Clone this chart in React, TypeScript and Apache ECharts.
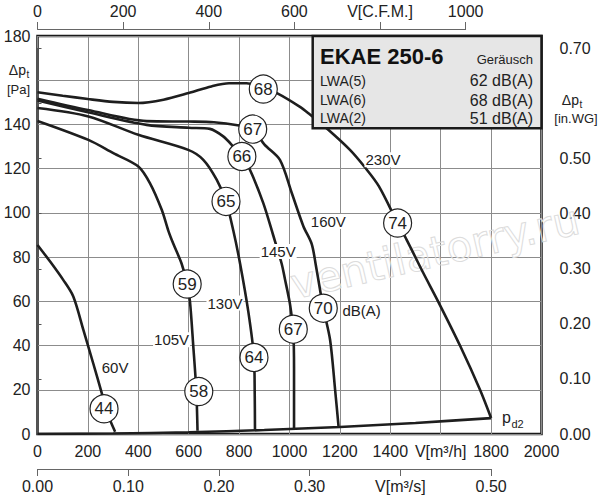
import React, { useEffect, useRef } from "react";
import * as echarts from "echarts";

// ---- data (V in m3/h, p in Pa) ----
const curve230V = [
  [0, 154.6], [100, 153], [200, 151.5], [300, 150.2], [400, 149.7], [500, 151.2],
  [600, 154.2], [690, 157.2], [760, 158.6], [830, 158.6], [896, 156.5], [950, 154.2],
  [1040, 148.1], [1080, 144.6], [1154, 137.6], [1240, 128.5], [1300, 120.5], [1355, 112],
  [1429, 95.4], [1465, 87.8], [1531, 72.8], [1590, 59.9], [1677, 39.9], [1756, 20], [1800, 7.2],
];
const curve160V = [
  [0, 151.6], [200, 146.5], [433, 141.5], [600, 141.3], [700, 141], [800, 139.5], [854, 137.9],
  [900, 131], [962, 124], [1009, 109], [1055, 94], [1088, 86], [1105, 76], [1120, 66],
  [1134, 56.9], [1161, 42.6], [1181, 20], [1195, 3],
];
const curve145V = [
  [0, 150.8], [200, 145.5], [433, 139.8], [600, 138.5], [684, 138], [737, 134.6], [777, 130],
  [811, 125.5], [843, 119.5], [896, 104.4], [935, 90], [969, 77], [982, 70], [1000, 60],
  [1009, 53], [1015, 47], [1018, 30], [1018, 2],
];
const curve130V = [
  [0, 147.4], [202, 143.6], [400, 135.3], [598, 128.5], [658, 124], [711, 115], [748, 105.2],
  [777, 92], [804, 77], [837, 55], [859, 34.6], [862, 18], [863, 2],
];
const curve105V = [
  [0, 141.6], [202, 133], [301, 127], [400, 121], [446, 113.5], [493, 101.4], [519, 92],
  [539, 86], [572, 77], [594, 67.8], [605, 60], [618, 40], [630, 20], [635, 1.5],
];
const curve60V = [
  [0, 85.5], [50, 78], [102, 69.7], [142, 62.2], [182, 47.1], [221, 32], [255, 18.5],
  [275, 10], [308, 1],
];
const pd2Curve = [[0, 0], [300, 0.2], [600, 0.8], [900, 1.8], [1200, 3.2], [1500, 5], [1800, 7.2]];

const soundCircles = [
  [896, 156, "68"], [854, 137.9, "67"], [811, 125.5, "66"], [748, 105.2, "65"],
  [594, 67.8, "59"], [1429, 95.4, "74"], [1134, 56.9, "70"], [1015, 47.4, "67"],
  [859, 34.6, "64"], [640, 19.2, "58"], [264, 11.4, "44"],
];
const curveLabels = [
  [1371, 124, "230V"], [1154, 96.1, "160V"], [955, 82.5, "145V"], [744, 59.2, "130V"],
  [532, 42.6, "105V"], [308, 30.3, "60V"], [1286, 55.7, "dB(A)"],
];

const legendTitle = "EKAE 250-6";
const legendHeader = "Geräusch";
const legendKeys = ["LWA(5)", "LWA(6)", "LWA(2)"];
const legendValues = ["62 dB(A)", "68 dB(A)", "51 dB(A)"];

const FONT = "Liberation Sans, Arial, Helvetica, sans-serif";
const INK = "#1e1e1e";

export default function App() {
  const ref = useRef<HTMLDivElement>(null);
  useEffect(() => {
    const chart = echarts.init(ref.current!, null, { renderer: "svg" });
    const gL = 37.5, gT = 36, gW = 504, gH = 398;
    const pxPerPa = gH / 180;
    const inWG = 249.089;
    const rTop = gT + gH - 0.7 * inWG * pxPerPa;
    const cfm = 1.69901;

    const curves = [curve230V, curve160V, curve145V, curve130V, curve105V, curve60V];
    const lineSeries: any[] = curves.map((d, i) => ({
      type: "line", name: "c" + i, data: d, smooth: 0.3, symbol: "none",
      lineStyle: { color: INK, width: 2.6 }, z: 3, silent: true,
    }));
    lineSeries.push({
      type: "line", name: "pd2", data: pd2Curve, smooth: 0.3, symbol: "none",
      lineStyle: { color: INK, width: 2.6 }, z: 3, silent: true,
    });

    const textBase = { fontFamily: FONT, fill: "#222" };
    const graphics: any[] = [
      // watermark
      {
        type: "text", x: 435, y: 252, rotation: 0.227, z: 1, silent: true,
        style: { text: "ventilatorry.ru", fontFamily: "DejaVu Sans, sans-serif", fontSize: 42,
          fill: "rgba(0,0,0,0)", stroke: "#dcdcdc", lineWidth: 1, align: "center", verticalAlign: "middle" },
      },
      // legend box
      {
        type: "rect", z: 100, shape: { x: 312.7, y: 36, width: 228.8, height: 92.3 },
        style: { fill: "#e6e6e6", stroke: "#1a1a1a", lineWidth: 2.5 },
      },
      { type: "text", z: 101, x: 320, y: 56, style: { ...textBase, text: legendTitle, fontSize: 22, fontWeight: "bold", fill: "#111", align: "left", verticalAlign: "middle" } },
      { type: "text", z: 101, x: 533, y: 59.5, style: { ...textBase, text: legendHeader, fontSize: 13, align: "right", verticalAlign: "middle" } },
      // left axis name
      { type: "text", z: 10, x: 26, y: 70, style: { ...textBase, text: "Δp", fontSize: 14, align: "right", verticalAlign: "middle" } },
      { type: "text", z: 10, x: 26.5, y: 74, style: { ...textBase, text: "t", fontSize: 10, align: "left", verticalAlign: "middle" } },
      { type: "text", z: 10, x: 30, y: 89, style: { ...textBase, text: "[Pa]", fontSize: 13, align: "right", verticalAlign: "middle" } },
      // right axis name
      { type: "text", z: 10, x: 579, y: 100, style: { ...textBase, text: "Δp", fontSize: 14, align: "right", verticalAlign: "middle" } },
      { type: "text", z: 10, x: 579.5, y: 104, style: { ...textBase, text: "t", fontSize: 10, align: "left", verticalAlign: "middle" } },
      { type: "text", z: 10, x: 576, y: 118, style: { ...textBase, text: "[in.WG]", fontSize: 13, align: "center", verticalAlign: "middle" } },
      // pd2
      { type: "text", z: 10, x: 502, y: 417, style: { ...textBase, text: "p", fontSize: 16, align: "left", verticalAlign: "middle" } },
      { type: "text", z: 10, x: 511.5, y: 423.5, style: { ...textBase, text: "d2", fontSize: 11, align: "left", verticalAlign: "middle" } },
    ];
    const rowY = [80.7, 100, 118.3];
    legendKeys.forEach((k, i) => {
      graphics.push({
        type: "text", z: 101, x: 320, y: rowY[i],
        style: { ...textBase, text: k, fontSize: 14, align: "left", verticalAlign: "middle" },
      });
      graphics.push({
        type: "text", z: 101, x: 533, y: rowY[i],
        style: { ...textBase, text: legendValues[i], fontSize: 16, align: "right", verticalAlign: "middle" },
      });
    });

    const tickLabel = { fontFamily: FONT, fontSize: 16, color: "#222" };
    const option: any = {
      animation: false,
      grid: [
        { left: gL, top: gT, width: gW, height: gH, show: true, borderColor: "#1a1a1a", borderWidth: 2.5, backgroundColor: "transparent", z: 0 },
        { left: gL, top: 28, width: 1000 * cfm * (gW / 2000), height: 1 },
        { left: gL, top: 468, width: 1800 * (gW / 2000), height: 1 },
        { left: gL, top: rTop, width: gW, height: gT + gH - rTop },
      ],
      xAxis: [
        {
          type: "value", gridIndex: 0, min: 0, max: 2000, interval: 200, position: "bottom",
          axisLine: { show: false }, axisTick: { show: false },
          splitLine: { show: true, lineStyle: { color: "#8c8c8c", width: 1 } },
          axisLabel: { ...tickLabel, margin: 9, formatter: (v: number) => (v === 1600 ? "V[m³/h]" : String(v)) },
        },
        {
          type: "value", gridIndex: 1, min: 0, max: 1000, interval: 200, position: "top",
          axisLine: { show: true, lineStyle: { color: "#666", width: 1 } },
          axisTick: { show: true, length: 7, lineStyle: { color: "#666", width: 1 } },
          splitLine: { show: false },
          axisLabel: { ...tickLabel, margin: 9, formatter: (v: number) => (v === 800 ? "V[C.F.M.]" : String(v)) },
        },
        {
          type: "value", gridIndex: 2, min: 0, max: 0.5, interval: 0.1, position: "bottom",
          axisLine: { show: true, lineStyle: { color: "#666", width: 1 } },
          axisTick: { show: true, length: 7, lineStyle: { color: "#666", width: 1 } },
          splitLine: { show: false },
          axisLabel: { ...tickLabel, margin: 9, formatter: (v: number) => (Math.abs(v - 0.4) < 1e-6 ? "V[m³/s]" : v.toFixed(2)) },
        },
        { type: "value", gridIndex: 3, min: 0, max: 1, show: false },
      ],
      yAxis: [
        {
          type: "value", gridIndex: 0, min: 0, max: 180, interval: 20,
          axisLine: { show: false }, axisTick: { show: false },
          splitLine: { show: true, lineStyle: { color: "#8c8c8c", width: 1 } },
          axisLabel: { ...tickLabel, margin: 7, formatter: (v: number) => (v === 160 ? "" : String(v)) },
        },
        { type: "value", gridIndex: 1, show: false },
        { type: "value", gridIndex: 2, show: false },
        {
          type: "value", gridIndex: 3, min: 0, max: 0.7, interval: 0.1, position: "right", offset: 9,
          axisLine: { show: true, lineStyle: { color: "#555", width: 1 } },
          axisTick: { show: true, length: 4, lineStyle: { color: "#555", width: 1 } },
          splitLine: { show: false },
          axisLabel: { ...tickLabel, margin: 9, formatter: (v: number) => (Math.abs(v - 0.6) < 1e-6 ? "" : v.toFixed(2)) },
        },
      ],
      series: [
        ...lineSeries,
        {
          type: "scatter", data: curveLabels, symbolSize: 1, z: 5, silent: true,
          itemStyle: { color: "rgba(0,0,0,0)", opacity: 1 },
          label: { show: true, position: "inside", formatter: (p: any) => p.value[2], fontFamily: FONT, fontSize: 15,
            color: "#222", backgroundColor: "#fff", padding: [0, 1, 0, 1], opacity: 1 },
        },
        {
          type: "scatter", data: soundCircles, symbol: "circle", symbolSize: 28, z: 6, silent: true,
          itemStyle: { color: "#fff", borderColor: "#222", borderWidth: 1.2, opacity: 1 },
          label: { show: true, position: "inside", formatter: (p: any) => p.value[2], fontFamily: FONT, fontSize: 17, color: "#222" },
        },
      ],
      graphic: graphics,
    };
    chart.setOption(option);
    return () => chart.dispose();
  }, []);
  return <div ref={ref} style={{ position: "fixed", left: 0, top: 0, width: 600, height: 500, background: "#fff" }} />;
}
